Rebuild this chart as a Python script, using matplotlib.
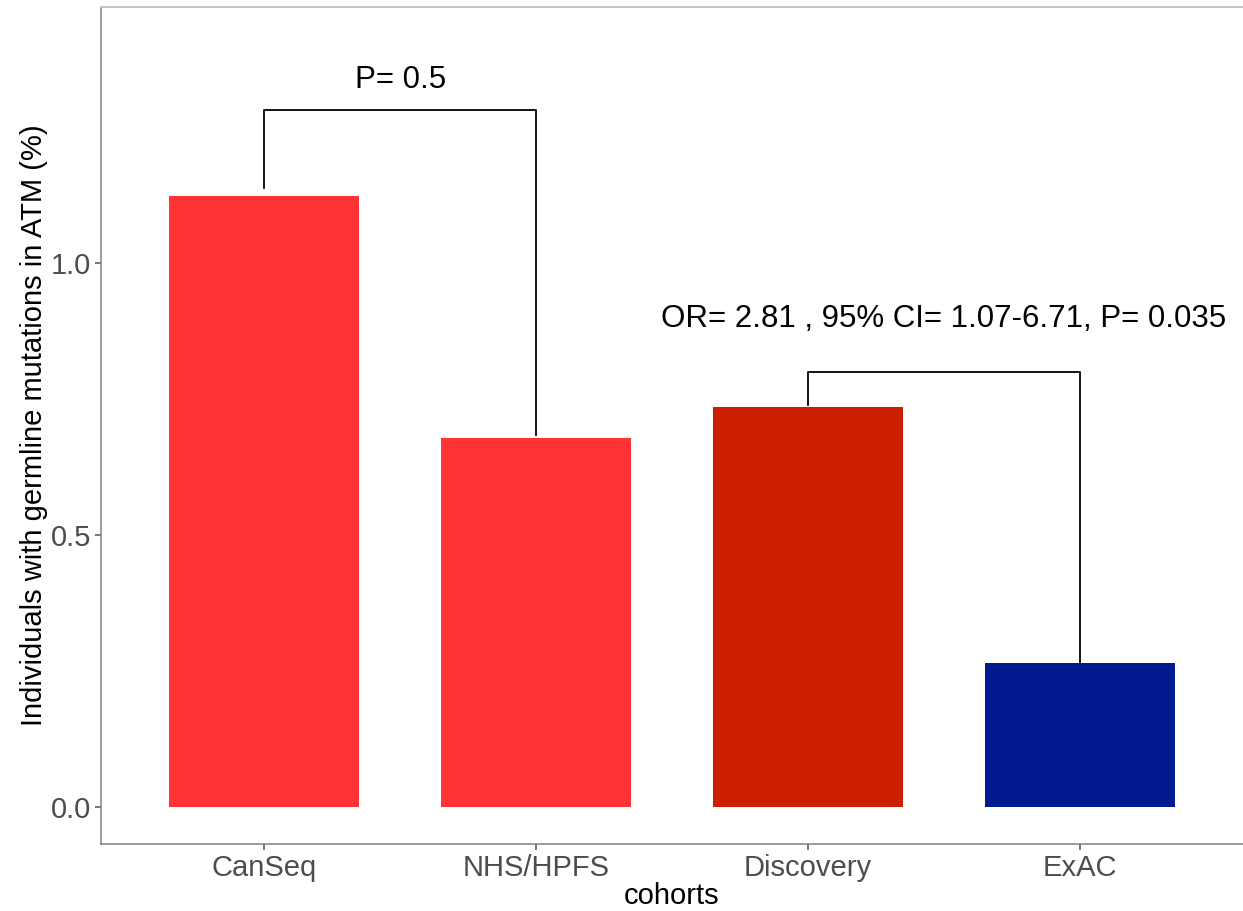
import matplotlib
matplotlib.use("Agg")
import matplotlib.pyplot as plt

cohorts = ["CanSeq", "NHS/HPFS", "Discovery", "ExAC"]
pct = [1.123, 0.678, 0.735, 0.265]
bar_colors = ["#FF3333", "#FF3333", "#CD1E00", "#021A8F"]

# bracket annotations: (left idx, right idx, left foot, right foot, top, label, label y)
brackets = [
    (0, 1, 1.138, 0.684, 1.281, "P= 0.5", 1.336),
    (2, 3, 0.739, 0.265, 0.800, "OR= 2.81 , 95% CI= 1.07-6.71, P= 0.035", 0.897),
]

plt.rcParams["font.family"] = ["Liberation Sans", "DejaVu Sans"]

fig = plt.figure(figsize=(12.43, 9.11), dpi=100)
ax = fig.add_axes([0.0813, 0.0735, 0.9187, 0.919])

x = list(range(1, len(cohorts) + 1))
ax.bar(x, pct, width=0.7, color=bar_colors)

for i, j, yl, yr, top, label, ly in brackets:
    xl, xr = x[i], x[j]
    ax.plot([xl, xl, xr, xr], [yl, top, top, yr], color="black", lw=1.3)
    ax.text((xl + xr) / 2, ly, label, ha="center", va="center", fontsize=22.5, color="black")

ax.set_xlim(0.4, 4.6)
ax.set_ylim(-0.068, 1.471)
ax.set_xticks(x)
ax.set_xticklabels(cohorts)
ax.set_yticks([0.0, 0.5, 1.0])
ax.set_yticklabels(["0.0", "0.5", "1.0"])
ax.tick_params(colors="#4D4D4D", labelsize=21, length=4, width=1.1, pad=3, labelcolor="#4D4D4D")
ax.set_xlabel("cohorts", fontsize=21, labelpad=0.5)
ax.set_ylabel("Individuals with germline mutations in ATM (%)", fontsize=21, labelpad=2)

for side in ["left", "bottom"]:
    ax.spines[side].set_color("#808080")
    ax.spines[side].set_linewidth(1.1)
ax.spines["top"].set_color("#BFBFBF")
ax.spines["top"].set_linewidth(1.3)
ax.spines["right"].set_visible(False)

fig.savefig("out.png", dpi=100)
